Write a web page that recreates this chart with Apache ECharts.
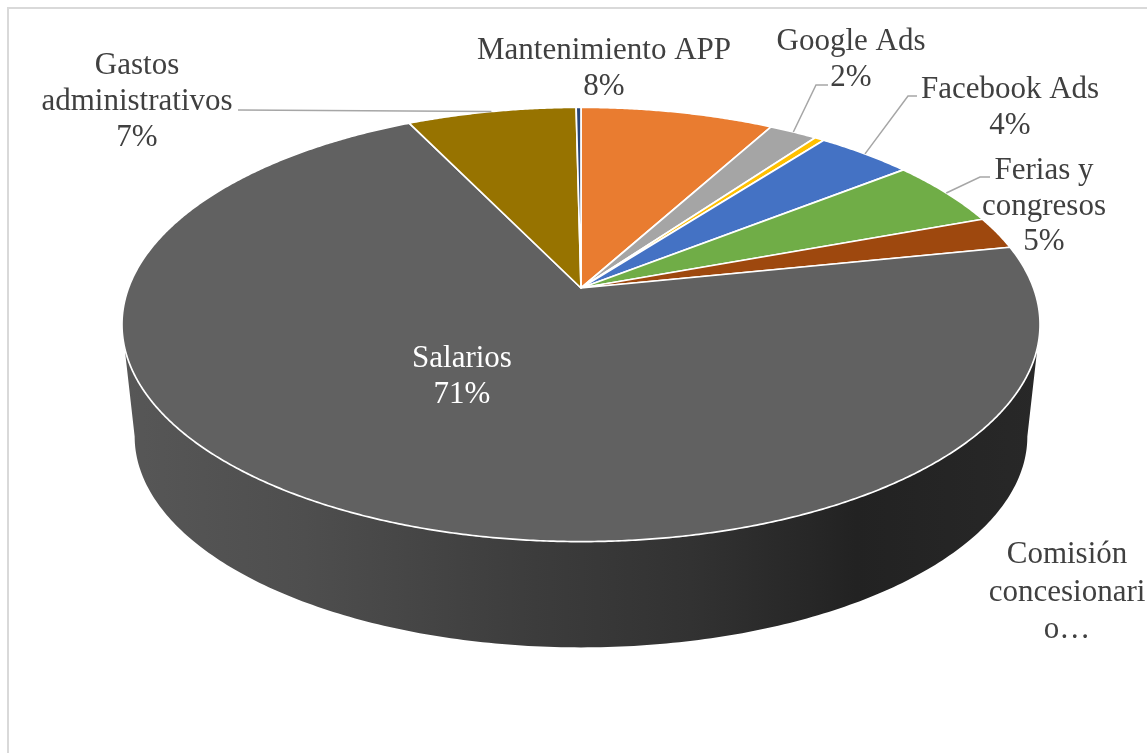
<!DOCTYPE html>
<html>
<head>
<meta charset="utf-8">
<style>
  html, body { margin: 0; padding: 0; background: #ffffff; }
  #chart { width: 1147px; height: 753px; }
</style>
<script src="https://cdn.jsdelivr.net/npm/echarts@6/dist/echarts.min.js"></script>
</head>
<body>
<div id="chart"></div>
<script>
// Cost breakdown, in percent, clockwise from twelve o'clock.
const categories = [
  'Mantenimiento APP', 'Google Ads', 'Otros', 'Facebook Ads', 'Ferias y congresos',
  'Comisión concesionario', 'Salarios', 'Gastos administrativos', 'Varios'
];
const values = [8, 2, 0.4, 4, 5, 2.4, 71, 7, 0.2];
const sliceColors = ['#E97C30', '#A5A5A5', '#FFC000', '#4472C4', '#70AD47', '#9E480E', '#616161', '#977300', '#264478'];

// Label text per category; an empty list means the slice carries no label.
const labelLines = [
  ['Mantenimiento APP', '8%'],
  ['Google Ads', '2%'],
  [],
  ['Facebook Ads', '4%'],
  ['Ferias y', 'congresos', '5%'],
  ['Comisión', 'concesionari', 'o…'],
  ['Salarios', '71%'],
  ['Gastos', 'administrativos', '7%'],
  []
];

// Label anchors: centre x and the y of the first line.
const labelAnchors = [
  [604, 51], [851, 42], null, [1010, 90], [1044, 171], [1067, 555], [462, 359], [137, 66], null
];
const labelLineHeights = [36, 36, 36, 36, 35.5, 37.5, 36, 36, 36];
const labelColors = ['#404040', '#404040', '#404040', '#404040', '#404040', '#404040', '#ffffff', '#404040', '#404040'];

// Leader line elbows, from the slice rim out to the label.
const leaderElbows = [
  null,
  [[816, 85], [828, 85]],
  null,
  [[908, 96], [917, 96]],
  [[980, 177], [990, 177]],
  null,
  null,
  [[238, 110]],
  null
];

// The disc is seen in perspective: the centre sits above the middle of the ellipse.
const disc = { cx: 581, cy: 288, a: 452.5, b: 211, k: 0.168 };
const base = { cx: 581, cy: 401, a: 440, b: 205, k: 0.168 };
const total = values.reduce((s, v) => s + v, 0);

// Share of the circle at which the projected ellipse is widest.
const widestShare = Math.acos(-disc.k) / (Math.PI * 2);

function project(p, share) {
  const t = share / total * Math.PI * 2;
  const u = Math.sin(t);
  const v = -Math.cos(t);
  const s = 1 / (1 - p.k * v);
  return [p.cx + p.a * u * s, p.cy + p.b * v * s];
}

function arc(p, from, to, step) {
  const pts = [];
  const n = Math.max(2, Math.ceil(Math.abs(to - from) / step));
  for (let i = 0; i <= n; i++) pts.push(project(p, from + (to - from) * i / n));
  return pts;
}

const starts = values.reduce((acc, v, i) => {
  acc.push(i === 0 ? 0 : acc[i - 1] + values[i - 1]);
  return acc;
}, []);

// Side wall of the disc: front rim of the lower disc joined to the widest points of the top one.
function renderWall() {
  const right = total * widestShare;
  const left = total * (1 - widestShare);
  const lower = arc(base, right, left, 0.2);
  const upper = arc(disc, left, right, 0.2);
  return {
    type: 'polygon',
    shape: { points: lower.concat(upper) },
    style: {
      fill: new echarts.graphic.LinearGradient(0, 0, 1, 0, [
        { offset: 0, color: '#575757' },
        { offset: 0.2, color: '#4e4e4e' },
        { offset: 0.45, color: '#3c3c3c' },
        { offset: 0.62, color: '#323232' },
        { offset: 0.76, color: '#262626' },
        { offset: 0.8, color: '#222222' },
        { offset: 1, color: '#282828' }
      ])
    },
    silent: true
  };
}

function renderSlice(params, api) {
  const i = api.value(0);
  const from = starts[i];
  const to = from + api.value(1);
  return {
    type: 'polygon',
    shape: { points: [[disc.cx, disc.cy]].concat(arc(disc, from, to, 0.1)) },
    style: { fill: sliceColors[i], stroke: '#ffffff', lineWidth: 1.7, lineJoin: 'round' }
  };
}

function renderLabel(params, api) {
  const i = api.value(0);
  const children = [];
  if (leaderElbows[i]) {
    const rim = project(disc, starts[i] + api.value(1) / 2);
    children.push({
      type: 'polyline',
      shape: { points: [rim].concat(leaderElbows[i]) },
      style: { fill: 'none', stroke: '#a6a6a6', lineWidth: 1.5 },
      silent: true
    });
  }
  if (labelAnchors[i]) {
    labelLines[i].forEach((line, n) => {
      children.push({
        type: 'text',
        style: {
          text: line,
          x: labelAnchors[i][0],
          y: labelAnchors[i][1] + n * labelLineHeights[i],
          align: 'center',
          verticalAlign: 'middle',
          font: '31px "Liberation Serif"',
          fill: labelColors[i]
        },
        silent: true
      });
    });
  }
  return { type: 'group', children };
}

const rows = values.map((v, i) => [i, v, categories[i]]);

const chart = echarts.init(document.getElementById('chart'), null, { renderer: 'canvas' });
chart.setOption({
  animation: false,
  backgroundColor: '#ffffff',
  tooltip: { show: false },
  graphic: [{
    type: 'rect',
    shape: { x: 8, y: 8, width: 1160, height: 800 },
    style: { fill: 'none', stroke: '#d9d9d9', lineWidth: 2 },
    silent: true
  }],
  series: [
    { type: 'custom', coordinateSystem: 'none', renderItem: renderWall, data: [[0]], z: 1 },
    { type: 'custom', coordinateSystem: 'none', renderItem: renderSlice, data: rows, z: 2 },
    { type: 'custom', coordinateSystem: 'none', renderItem: renderLabel, data: rows, z: 3 }
  ]
});
</script>
</body>
</html>
